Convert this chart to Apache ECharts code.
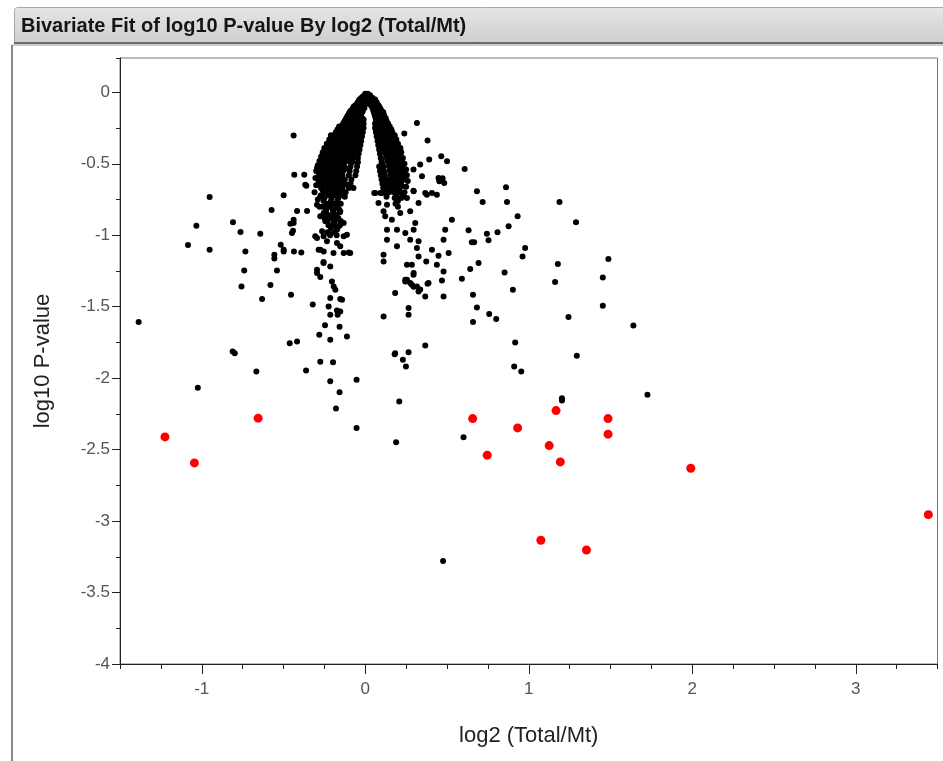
<!DOCTYPE html>
<html><head><meta charset="utf-8">
<script src="https://cdn.jsdelivr.net/npm/echarts@6/dist/echarts.min.js"></script>
<style>html,body{margin:0;padding:0;background:#fff}#c{width:943px;height:761px}</style>
</head><body><div id="c"></div>
<script>
const titleText = 'Bivariate Fit of log10 P-value By log2 (Total/Mt)';
const xName = 'log2 (Total/Mt)';
const yName = 'log10 P-value';
const xTickLabels = [-1, 0, 1, 2, 3];
const yTickLabels = [0, -0.5, -1, -1.5, -2, -2.5, -3, -3.5, -4];

const redPoints = [
  [-1.225,-2.411],[-1.045,-2.593],[-0.655,-2.280],[0.657,-2.283],[0.746,-2.539],
  [0.932,-2.348],[1.167,-2.227],[1.125,-2.472],[1.193,-2.586],[1.485,-2.283],
  [1.485,-2.392],[1.991,-2.630],[3.444,-2.955],[1.074,-3.134],[1.353,-3.202]
];

// dense core (inverted V), main rows
const corePoints = [
  [0.0,-0.01],[0.015,-0.01],
  [-0.015,-0.03],[0.005,-0.03],[0.025,-0.03],
  [-0.035,-0.05],[-0.01,-0.05],[0.015,-0.05],[0.04,-0.05],[0.06,-0.05],
  [-0.045,-0.07],[-0.02,-0.07],[0.0,-0.07],[0.025,-0.07],[0.05,-0.07],[0.07,-0.07],
  [-0.06,-0.09],[-0.035,-0.09],[-0.01,-0.09],[0.035,-0.09],[0.06,-0.09],[0.08,-0.09],
  [-0.075,-0.11],[-0.05,-0.11],[-0.025,-0.11],[-0.005,-0.11],[0.045,-0.11],[0.07,-0.11],[0.09,-0.11],
  [-0.09,-0.13],[-0.065,-0.13],[-0.04,-0.13],[-0.015,-0.13],[0.05,-0.13],[0.075,-0.13],[0.1,-0.13],
  [-0.1,-0.15],[-0.075,-0.15],[-0.05,-0.15],[-0.025,-0.15],[0.055,-0.15],[0.08,-0.15],[0.105,-0.15],
  [-0.11,-0.17],[-0.085,-0.17],[-0.06,-0.17],[-0.03,-0.17],[0.06,-0.17],[0.09,-0.17],[0.11,-0.17],
  [-0.12,-0.19],[-0.095,-0.19],[-0.065,-0.19],[-0.035,-0.19],[-0.01,-0.19],[0.065,-0.19],[0.095,-0.19],[0.12,-0.19],
  [-0.13,-0.21],[-0.1,-0.21],[-0.075,-0.21],[-0.045,-0.21],[-0.015,-0.21],[0.07,-0.21],[0.1,-0.21],[0.13,-0.21],
  [-0.14,-0.23],[-0.11,-0.23],[-0.08,-0.23],[-0.05,-0.23],[-0.02,-0.23],[0.075,-0.23],[0.105,-0.23],[0.135,-0.23],
  [-0.15,-0.25],[-0.12,-0.25],[-0.09,-0.25],[-0.06,-0.25],[-0.025,-0.25],[0.08,-0.25],[0.11,-0.25],[0.14,-0.25],
  [-0.16,-0.27],[-0.13,-0.27],[-0.1,-0.27],[-0.065,-0.27],[-0.03,-0.27],[0.085,-0.27],[0.115,-0.27],[0.15,-0.27],
  [-0.17,-0.29],[-0.14,-0.29],[-0.105,-0.29],[-0.07,-0.29],[-0.035,-0.29],[0.09,-0.29],[0.12,-0.29],[0.155,-0.29],
  [-0.18,-0.31],[-0.145,-0.31],[-0.11,-0.31],[-0.075,-0.31],[-0.04,-0.31],[0.095,-0.31],[0.13,-0.31],[0.16,-0.31],
  [-0.19,-0.33],[-0.155,-0.33],[-0.12,-0.33],[-0.085,-0.33],[-0.045,-0.33],[0.1,-0.33],[0.135,-0.33],[0.17,-0.33],
  [-0.2,-0.35],[-0.16,-0.35],[-0.125,-0.35],[-0.09,-0.35],[-0.05,-0.35],[0.105,-0.35],[0.14,-0.35],[0.175,-0.35],
  [-0.21,-0.37],[-0.17,-0.37],[-0.13,-0.37],[-0.095,-0.37],[-0.055,-0.37],[0.11,-0.37],[0.145,-0.37],[0.18,-0.37],
  [-0.22,-0.39],[-0.18,-0.39],[-0.14,-0.39],[-0.1,-0.39],[-0.06,-0.39],[0.115,-0.39],[0.15,-0.39],[0.185,-0.39],
  [-0.225,-0.41],[-0.185,-0.41],[-0.145,-0.41],[-0.105,-0.41],[-0.065,-0.41],[0.12,-0.41],[0.155,-0.41],[0.19,-0.41],
  [-0.23,-0.43],[-0.19,-0.43],[-0.15,-0.43],[-0.11,-0.43],[-0.07,-0.43],[0.125,-0.43],[0.16,-0.43],[0.2,-0.43],
  [-0.24,-0.45],[-0.2,-0.45],[-0.155,-0.45],[-0.115,-0.45],[0.13,-0.45],[0.165,-0.45],[0.205,-0.45],
  [-0.245,-0.47],[-0.205,-0.47],[-0.16,-0.47],[-0.12,-0.47],[0.135,-0.47],[0.17,-0.47],[0.21,-0.47],
  [-0.25,-0.49],[-0.21,-0.49],[-0.165,-0.49],[-0.125,-0.49],[0.14,-0.49],[0.175,-0.49],[0.215,-0.49],
  [-0.26,-0.52],[-0.215,-0.52],[-0.17,-0.52],[-0.13,-0.52],[0.145,-0.52],[0.18,-0.52],[0.22,-0.52],
  [-0.265,-0.55],[-0.22,-0.55],[-0.175,-0.55],[-0.135,-0.55],[0.15,-0.55],[0.19,-0.55],[0.225,-0.55],
  [-0.27,-0.58],[-0.225,-0.58],[-0.18,-0.58],[-0.14,-0.58],[0.155,-0.58],[0.195,-0.58],[0.23,-0.58],
  [-0.26,-0.61],[-0.215,-0.61],[-0.17,-0.61],[0.16,-0.61],[0.2,-0.61],[0.235,-0.61],
  [-0.265,-0.64],[-0.22,-0.64],[-0.175,-0.64],[0.165,-0.64],[0.205,-0.64],
  [-0.27,-0.67],[-0.225,-0.67],[-0.18,-0.67],[-0.14,-0.67],[0.17,-0.67],[0.21,-0.67],
  [-0.245,-0.70],[-0.2,-0.70],[-0.16,-0.70],[0.175,-0.70],[0.215,-0.70],
  [-0.25,-0.74],[-0.205,-0.74],[-0.165,-0.74],[0.18,-0.74],[0.22,-0.74],
  [-0.235,-0.78],[-0.19,-0.78],[-0.15,-0.78],[0.185,-0.78],
  [-0.24,-0.82],[-0.2,-0.82],[-0.16,-0.82],
  [-0.225,-0.86],[-0.18,-0.86],
  [-0.23,-0.90],[-0.185,-0.90],[-0.15,-0.90],
  [-0.21,-0.95],[-0.17,-0.95],
  [-0.215,-1.0],[-0.175,-1.0]
];

// dense core, in-between rows
const coreFill = [
  [-0.005,-0.02],[0.01,-0.02],[0.03,-0.02],
  [-0.025,-0.04],[0.0,-0.04],[0.02,-0.04],[0.045,-0.04],
  [-0.04,-0.06],[-0.015,-0.06],[0.005,-0.06],[0.035,-0.06],[0.055,-0.06],
  [-0.05,-0.08],[-0.025,-0.08],[0.02,-0.08],[0.045,-0.08],[0.07,-0.08],
  [-0.07,-0.10],[-0.045,-0.10],[-0.02,-0.10],[0.04,-0.10],[0.065,-0.10],[0.085,-0.10],
  [-0.08,-0.12],[-0.055,-0.12],[-0.03,-0.12],[0.05,-0.12],[0.08,-0.12],[0.095,-0.12],
  [-0.095,-0.14],[-0.07,-0.14],[-0.045,-0.14],[-0.02,-0.14],[0.06,-0.14],[0.09,-0.14],[0.11,-0.14],
  [-0.105,-0.16],[-0.08,-0.16],[-0.055,-0.16],[-0.035,-0.16],[0.065,-0.16],[0.095,-0.16],[0.115,-0.16],
  [-0.115,-0.18],[-0.09,-0.18],[-0.07,-0.18],[-0.045,-0.18],[-0.02,-0.18],[0.075,-0.18],[0.1,-0.18],[0.125,-0.18],
  [-0.125,-0.20],[-0.105,-0.20],[-0.08,-0.20],[-0.055,-0.20],[-0.03,-0.20],[0.08,-0.20],[0.11,-0.20],[0.13,-0.20],
  [-0.135,-0.22],[-0.115,-0.22],[-0.09,-0.22],[-0.06,-0.22],[-0.035,-0.22],[0.085,-0.22],[0.115,-0.22],[0.14,-0.22],
  [-0.16,-0.24],[-0.13,-0.24],[-0.1,-0.24],[-0.07,-0.24],[-0.04,-0.24],[0.09,-0.24],[0.12,-0.24],[0.15,-0.24],
  [-0.17,-0.26],[-0.14,-0.26],[-0.11,-0.26],[-0.08,-0.26],[-0.045,-0.26],[0.095,-0.26],[0.125,-0.26],[0.16,-0.26],
  [-0.18,-0.28],[-0.15,-0.28],[-0.12,-0.28],[-0.085,-0.28],[-0.05,-0.28],[0.1,-0.28],[0.135,-0.28],[0.165,-0.28],
  [-0.19,-0.30],[-0.16,-0.30],[-0.125,-0.30],[-0.09,-0.30],[-0.055,-0.30],[0.105,-0.30],[0.14,-0.30],[0.17,-0.30],
  [-0.2,-0.32],[-0.165,-0.32],[-0.13,-0.32],[-0.1,-0.32],[-0.06,-0.32],[0.11,-0.32],[0.145,-0.32],[0.18,-0.32],
  [-0.21,-0.34],[-0.175,-0.34],[-0.14,-0.34],[-0.105,-0.34],[-0.065,-0.34],[0.115,-0.34],[0.15,-0.34],[0.185,-0.34],
  [-0.22,-0.36],[-0.185,-0.36],[-0.145,-0.36],[-0.11,-0.36],[-0.07,-0.36],[0.12,-0.36],[0.16,-0.36],[0.19,-0.36],
  [-0.23,-0.38],[-0.195,-0.38],[-0.155,-0.38],[-0.115,-0.38],[-0.075,-0.38],[0.13,-0.38],[0.165,-0.38],[0.2,-0.38],
  [-0.24,-0.40],[-0.2,-0.40],[-0.16,-0.40],[-0.12,-0.40],[-0.08,-0.40],[0.135,-0.40],[0.17,-0.40],[0.205,-0.40],
  [-0.245,-0.42],[-0.205,-0.42],[-0.165,-0.42],[-0.125,-0.42],[-0.085,-0.42],[0.14,-0.42],[0.175,-0.42],[0.21,-0.42],
  [-0.25,-0.44],[-0.21,-0.44],[-0.17,-0.44],[-0.13,-0.44],[-0.09,-0.44],[0.145,-0.44],[0.18,-0.44],[0.215,-0.44],
  [-0.26,-0.46],[-0.22,-0.46],[-0.175,-0.46],[-0.135,-0.46],[0.15,-0.46],[0.19,-0.46],[0.22,-0.46],
  [-0.265,-0.48],[-0.225,-0.48],[-0.18,-0.48],[-0.14,-0.48],[-0.1,-0.48],[0.155,-0.48],[0.195,-0.48],[0.225,-0.48],
  [-0.27,-0.505],[-0.23,-0.505],[-0.19,-0.505],[-0.145,-0.505],[0.16,-0.505],[0.2,-0.505],[0.23,-0.505],
  [-0.28,-0.535],[-0.24,-0.535],[-0.195,-0.535],[-0.15,-0.535],[-0.11,-0.535],[0.165,-0.535],[0.205,-0.535],[0.235,-0.535],
  [-0.285,-0.565],[-0.245,-0.565],[-0.2,-0.565],[-0.155,-0.565],[0.17,-0.565],[0.21,-0.565],[0.24,-0.565],
  [-0.28,-0.595],[-0.24,-0.595],[-0.195,-0.595],[-0.15,-0.595],[0.175,-0.595],[0.215,-0.595],
  [-0.285,-0.625],[-0.245,-0.625],[-0.2,-0.625],[-0.155,-0.625],[0.18,-0.625],[0.22,-0.625],
  [-0.25,-0.655],[-0.205,-0.655],[-0.16,-0.655],[0.185,-0.655],[0.225,-0.655],
  [-0.26,-0.685],[-0.215,-0.685],[-0.17,-0.685],[0.16,-0.685],[0.2,-0.685],
  [-0.27,-0.72],[-0.225,-0.72],[-0.18,-0.72],[-0.14,-0.72],[0.19,-0.72],[0.23,-0.72],
  [-0.255,-0.76],[-0.21,-0.76],[-0.17,-0.76],[0.2,-0.76],
  [-0.26,-0.80],[-0.215,-0.80],[-0.175,-0.80],[0.2,-0.80],
  [-0.24,-0.84],[-0.195,-0.84],[-0.155,-0.84],
  [-0.25,-0.88],[-0.205,-0.88],[-0.165,-0.88],
  [-0.225,-0.93],[-0.19,-0.93],[-0.155,-0.93],
  [-0.23,-0.98],[-0.19,-0.98]
];

// inner and outer edges of the two arms
const coreEdges = [
  [-0.01,-0.22],[0.06,-0.22],[-0.01,-0.25],[0.06,-0.25],[-0.015,-0.28],[0.065,-0.28],
  [-0.02,-0.31],[0.07,-0.31],[-0.025,-0.34],[0.075,-0.34],[-0.03,-0.37],[0.08,-0.37],
  [-0.035,-0.40],[0.085,-0.40],[-0.04,-0.43],[0.09,-0.43],
  [-0.075,-0.46],[-0.045,-0.46],[0.095,-0.46],[0.1,-0.47],
  [-0.08,-0.49],[-0.045,-0.49],[0.1,-0.49],[0.105,-0.50],
  [-0.09,-0.52],[-0.05,-0.52],[0.085,-0.52],[0.11,-0.52],
  [-0.095,-0.55],[-0.055,-0.55],[0.09,-0.55],[0.115,-0.55],
  [-0.1,-0.58],[-0.06,-0.58],[0.095,-0.58],[0.12,-0.58],
  [-0.125,-0.61],[-0.085,-0.61],[0.1,-0.61],[0.13,-0.61],
  [-0.13,-0.64],[-0.09,-0.64],[0.105,-0.64],[0.135,-0.64],
  [-0.1,-0.67],[0.11,-0.67],[0.14,-0.67],
  [-0.12,-0.70],[0.12,-0.70],[0.145,-0.70],
  [-0.125,-0.73],[0.13,-0.73],
  [-0.02,-0.265],[0.07,-0.265],[-0.025,-0.295],[0.075,-0.295],
  [-0.21,-0.30],[-0.22,-0.33],[-0.235,-0.36],[-0.25,-0.39],[-0.26,-0.42],[-0.27,-0.45],
  [-0.28,-0.48],[-0.29,-0.51],[-0.3,-0.55],[-0.305,-0.60],[-0.3,-0.65],[-0.31,-0.70],
  [-0.29,-0.75],[-0.28,-0.80],
  [0.18,-0.30],[0.19,-0.33],[0.2,-0.36],[0.215,-0.39],[0.22,-0.42],[0.23,-0.46],
  [0.24,-0.50],[0.25,-0.54],[0.255,-0.58],[0.26,-0.62],[0.25,-0.66],[0.24,-0.70]
];

// scattered points around the core
const outerPoints = [
  [-0.952,-0.733],[-1.033,-0.933],[-1.084,-1.069],[-0.952,-1.102],[-1.386,-1.608],
  [-0.499,-0.721],[-0.573,-0.824],[-0.809,-0.910],[-0.763,-0.978],[-0.642,-0.990],
  [-0.733,-1.113],[-0.740,-1.247],[-0.757,-1.359],[-0.631,-1.447],[-0.540,-1.247],
  [-0.580,-1.349],[-0.454,-1.417],[-0.517,-1.067],[-0.556,-1.137],[-0.556,-1.162],
  [-0.499,-1.113],[-0.436,-1.113],[-0.391,-1.120],[-0.356,-0.831],[-0.417,-0.831],
  [-0.438,-0.891],[-0.458,-0.919],[-0.442,-0.969],[-0.798,-1.825],[-0.811,-1.814],
  [-0.666,-1.954],[-1.024,-2.068],[-0.462,-1.755],[-0.417,-1.744],[-0.321,-1.485],
  [-0.362,-1.947],[-0.275,-1.886],[-0.197,-1.888],[-0.281,-1.697],[-0.214,-1.732],
  [-0.112,-1.709],[-0.157,-1.641],[-0.246,-1.629],[-0.214,-2.021],[-0.157,-2.098],
  [-0.053,-2.012],[-0.179,-2.213],[-0.053,-2.348],[-0.255,-1.188],[-0.214,-1.218],
  [-0.295,-1.242],[-0.275,-1.293],[-0.204,-1.324],[-0.193,-1.359],[-0.214,-1.440],
  [-0.153,-1.447],[-0.224,-1.499],[-0.173,-1.527],[-0.214,-1.557],[-0.153,-1.534],
  [-0.183,-1.382],[-0.142,-1.452],[-0.169,-1.557],
  [0.112,-1.569],[0.183,-1.405],[0.183,-1.825],[0.265,-1.818],[0.230,-1.872],
  [0.249,-1.919],[0.208,-2.164],[0.265,-1.510],[0.265,-1.557],[0.112,-1.137],
  [0.112,-1.183],[0.133,-1.032],[0.194,-1.078],[0.275,-1.032],[0.326,-1.148],
  [0.255,-1.207],[0.296,-1.265],[0.255,-1.312],[0.296,-1.36],[0.336,-1.38],
  [-0.438,-0.303],[0.316,-0.214],[0.381,-0.338],[0.239,-0.289],[0.465,-0.448],
  [0.500,-0.483],[0.608,-0.536],[0.683,-0.693],[0.391,-0.471],[0.336,-0.506],
  [0.295,-0.541],[0.347,-0.588],[0.377,-0.716],[0.438,-0.716],[0.473,-0.602],
  [0.453,-0.623],[-0.434,-0.576],[-0.373,-0.576],[-0.360,-0.653],[-0.295,-0.529],
  [-0.218,-0.443],[-0.438,-0.915],[-0.448,-0.985],[-0.499,-1.102],[-0.285,-1.102],
  [-0.255,-1.195],[-0.295,-1.265],[-0.255,-1.008],[-0.306,-1.008],[-0.275,-0.868],
  [-0.193,-0.880],[-0.173,-0.810],[-0.214,-0.775],[-0.163,-0.938],[-0.132,-1.008],
  [-0.132,-1.125],[-0.092,-1.125],[-0.153,-1.078],
  [-0.367,-0.646],[-0.275,-0.634],[-0.194,-0.623],[-0.112,-0.646],[-0.072,-0.669],
  [-0.275,-0.728],[-0.194,-0.716],[-0.132,-0.704],[-0.295,-0.786],[-0.234,-0.798],
  [-0.173,-0.786],[-0.254,-0.845],[-0.194,-0.845],[-0.153,-0.833],[-0.244,-0.903],
  [-0.194,-0.915],[-0.132,-0.915],[-0.264,-0.973],[-0.224,-0.985],[-0.173,-0.961],
  [-0.112,-0.996],[-0.295,-1.020],[-0.234,-1.043],[-0.173,-1.055],[-0.254,-1.113],
  [-0.194,-1.125],[-0.101,-1.120],[-0.275,-1.102],
  [0.061,-0.704],[0.102,-0.704],[0.081,-0.775],[0.133,-0.786],[0.194,-0.751],
  [0.255,-0.740],[0.296,-0.693],[0.326,-0.775],[0.275,-0.833],[0.214,-0.845],
  [0.163,-0.891],[0.133,-0.961],[0.194,-0.961],[0.245,-0.985],[0.306,-0.915],
  [0.296,-0.961],[0.122,-0.868],[0.112,-0.833],
  [0.448,-0.599],[0.483,-0.634],[0.295,-0.688],[0.367,-0.704],[0.408,-0.704],
  [0.718,-0.768],[0.861,-0.665],[0.867,-0.768],[1.188,-0.768],[1.289,-0.910],
  [0.932,-0.868],[0.877,-0.938],[0.530,-0.891],[0.489,-0.962],[0.479,-1.032],
  [0.510,-1.125],[0.479,-1.429],[0.367,-1.429],[0.632,-0.966],[0.744,-0.990],
  [0.809,-0.980],[0.754,-1.036],[0.652,-1.050],[0.666,-1.050],[0.978,-1.090],
  [0.962,-1.148],[1.178,-1.202],[1.161,-1.328],[1.487,-1.167],[1.453,-1.296],
  [1.453,-1.494],[1.640,-1.632],[0.693,-1.195],[0.642,-1.237],[0.591,-1.305],
  [0.852,-1.261],[0.903,-1.382],[0.659,-1.417],[0.683,-1.506],[0.659,-1.608],
  [0.758,-1.552],[0.801,-1.587],[1.243,-1.573],[0.917,-1.751],[1.294,-1.844],
  [0.911,-1.919],[0.954,-1.954],[1.726,-2.117],[1.203,-2.140],[1.203,-2.157],
  [0.601,-2.413],[0.367,-1.772],[0.387,-1.335],[0.469,-1.317],[0.479,-1.254],
  [0.438,-1.207],[0.448,-1.144],[0.408,-1.102],[0.373,-1.183],[0.326,-1.043],
  [0.316,-1.090],[0.285,-1.207],[0.295,-1.277],[0.245,-1.312],[0.275,-1.335],
  [0.316,-1.359],[0.189,-2.448],[0.180,-1.832],[0.245,-1.324],[0.285,-1.347],
  [0.326,-1.394],[0.381,-1.340],[0.476,-3.280],[0.055,-0.704],[0.092,-0.704]
];

const blackPoints = corePoints.concat(coreFill, coreEdges, outerPoints);

const chart = echarts.init(document.getElementById('c'), null, {renderer: 'canvas'});
const FONT = 'Liberation Sans, Arial, sans-serif';
const gridBox = {left: 120, right: 5.5, top: 58, bottom: 97};

chart.setOption({
  animation: false,
  backgroundColor: '#ffffff',
  graphic: [
    {type: 'rect', left: 14, top: 7, z: 0,
     shape: {x: 0, y: 0, width: 940, height: 36, r: [3, 3, 0, 0]},
     style: {fill: new echarts.graphic.LinearGradient(0, 0, 0, 1, [
       {offset: 0, color: '#e6e6e6'}, {offset: 1, color: '#cdcdcd'}]), stroke: '#a8a8a8', lineWidth: 1}},
    {type: 'line', z: 1, shape: {x1: 14, y1: 43, x2: 943, y2: 43}, style: {stroke: '#6a6a6a', lineWidth: 2}},
    {type: 'line', z: 1, shape: {x1: 12, y1: 45, x2: 12, y2: 761}, style: {stroke: '#8a8a8a', lineWidth: 2}},
    {type: 'line', z: 1, shape: {x1: 12, y1: 45, x2: 943, y2: 45}, style: {stroke: '#9a9a9a', lineWidth: 1}},
    {type: 'text', left: 21, top: 16, z: 2,
     style: {text: titleText, font: 'bold 20px "Liberation Sans", Arial, sans-serif', fill: '#151515'}}
  ],
  grid: Object.assign({show: true, borderColor: '#777', borderWidth: 1, backgroundColor: '#fff'}, gridBox),
  xAxis: [
    {type: 'value', min: -1.5, max: 3.5, interval: 0.25, position: 'bottom',
     axisLine: {show: true, onZero: false, lineStyle: {color: '#222', width: 1}},
     axisTick: {show: true, length: 5, lineStyle: {color: '#222'}},
     axisLabel: {show: false}, splitLine: {show: false}},
    {type: 'value', min: -1.5, max: 3.5, position: 'bottom',
     axisLine: {show: false, onZero: false},
     axisTick: {show: true, customValues: xTickLabels, length: 10, lineStyle: {color: '#222'}},
     axisLabel: {show: true, customValues: xTickLabels, margin: 17, fontSize: 17, color: '#555', fontFamily: FONT},
     splitLine: {show: false},
     name: xName, nameLocation: 'middle', nameGap: 61,
     nameTextStyle: {fontSize: 22, color: '#222', fontFamily: FONT}}
  ],
  yAxis: [
    {type: 'value', min: -4, max: 0.24, interval: 0.25, position: 'left',
     axisLine: {show: true, onZero: false, lineStyle: {color: '#222', width: 1}},
     axisTick: {show: true, length: 4, lineStyle: {color: '#222'}},
     axisLabel: {show: false}, splitLine: {show: false}},
    {type: 'value', min: -4, max: 0.24, position: 'left',
     axisLine: {show: false, onZero: false},
     axisTick: {show: true, customValues: yTickLabels, length: 8, lineStyle: {color: '#222'}},
     axisLabel: {show: true, customValues: yTickLabels, margin: 10, fontSize: 17, color: '#555', fontFamily: FONT},
     splitLine: {show: false},
     name: yName, nameLocation: 'middle', nameGap: 66,
     nameTextStyle: {fontSize: 22, color: '#222', fontFamily: FONT}}
  ],
  series: [
    {type: 'scatter', xAxisIndex: 0, yAxisIndex: 0, data: blackPoints, symbolSize: 6,
     itemStyle: {color: '#000', opacity: 1}, silent: true, z: 2},
    {type: 'scatter', xAxisIndex: 0, yAxisIndex: 0, data: redPoints, symbolSize: 9,
     itemStyle: {color: '#ff0000', opacity: 1}, silent: true, z: 3}
  ]
});
</script>
</body></html>
